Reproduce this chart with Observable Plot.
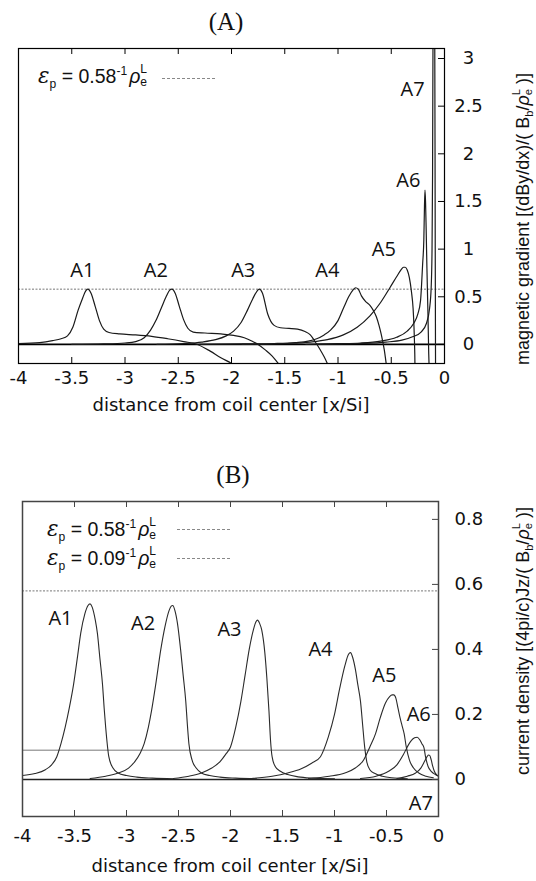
<!DOCTYPE html>
<html><head><meta charset="utf-8">
<script src="https://cdn.jsdelivr.net/npm/d3@7"></script>
<script src="https://cdn.jsdelivr.net/npm/@observablehq/plot@0.6"></script>
<style>
html,body{margin:0;padding:0;background:#fff;}
#wrap{position:relative;width:536px;height:881px;overflow:hidden;font-family:"Liberation Sans",Arial,sans-serif;color:#111;}
#wrap svg{position:absolute;left:0;}
.t{position:absolute;white-space:nowrap;line-height:1;}
.ttl{font-family:"Liberation Serif","DejaVu Serif",serif;font-size:25px;transform:translate(-50%,-50%);}
.xl{font-family:"DejaVu Sans",sans-serif;font-size:18px;transform:translate(-50%,-50%);}
.yl{font-size:18px;transform:translate(-50%,-50%) rotate(-90deg);}
.lg{font-size:19.5px;}
.eps{font-style:italic;font-family:"DejaVu Serif",serif;font-size:1.1em;}
.rho{font-style:italic;}
sub,sup{font-size:0.62em;line-height:0;}
.lg sup{margin-right:2px;}
.ss{display:inline-block;vertical-align:-0.3em;font-size:0.62em;line-height:1.1;}
.ss span{display:block;}
.sample{position:absolute;height:0;border-top:1px dashed #888;width:53px;}
</style></head>
<body><div id="wrap"></div>
<script>
// ---------- data ----------
const xTicks = [-4, -3.5, -3, -2.5, -2, -1.5, -1, -0.5, 0];
const gradTicks = [0, 0.5, 1, 1.5, 2, 2.5, 3];
const curTicks = [0, 0.2, 0.4, 0.6, 0.8];
const curveNames = ["A1", "A2", "A3", "A4", "A5", "A6", "A7"];

// (A) magnetic gradient curves
const gA1x = [-4.0,-3.8,-3.68,-3.6,-3.54,-3.49,-3.44,-3.4,-3.37,-3.35,-3.32,-3.28,-3.24,-3.2,-3.15,-3.05,-2.9,-2.75,-2.6,-2.45,-2.32,-2.2,-2.1,-2.0,-1.95];
const gA1y = [0.01,0.02,0.04,0.06,0.09,0.18,0.36,0.48,0.56,0.58,0.54,0.4,0.25,0.16,0.125,0.11,0.1,0.085,0.06,0.03,0.0,-0.07,-0.14,-0.2,-0.24];
const gA2x = [-3.5,-3.2,-3.0,-2.9,-2.82,-2.76,-2.71,-2.66,-2.61,-2.58,-2.56,-2.53,-2.49,-2.45,-2.41,-2.36,-2.25,-2.1,-1.98,-1.88,-1.8,-1.75,-1.68,-1.62,-1.56,-1.53];
const gA2y = [0.0,0.005,0.015,0.03,0.07,0.15,0.25,0.38,0.51,0.57,0.58,0.54,0.4,0.26,0.17,0.13,0.12,0.11,0.095,0.07,0.03,0.0,-0.06,-0.12,-0.2,-0.24];
const gA3x = [-2.7,-2.45,-2.28,-2.15,-2.05,-1.98,-1.91,-1.85,-1.8,-1.76,-1.74,-1.71,-1.66,-1.6,-1.54,-1.46,-1.38,-1.31,-1.26,-1.21,-1.17,-1.13,-1.1,-1.08];
const gA3y = [0.0,0.01,0.025,0.05,0.09,0.14,0.23,0.36,0.48,0.56,0.58,0.54,0.32,0.2,0.175,0.168,0.16,0.135,0.1,0.02,-0.05,-0.13,-0.2,-0.25];
const gA4x = [-2.3,-1.9,-1.6,-1.4,-1.28,-1.2,-1.13,-1.07,-1.0,-0.945,-0.9,-0.86,-0.835,-0.81,-0.78,-0.74,-0.7,-0.67,-0.64,-0.615,-0.595,-0.58,-0.565,-0.55,-0.54];
const gA4y = [0.0,0.005,0.01,0.02,0.035,0.06,0.1,0.15,0.25,0.39,0.5,0.57,0.595,0.58,0.51,0.45,0.41,0.36,0.29,0.2,0.11,0.03,-0.06,-0.18,-0.26];
const gA5x = [-1.9,-1.5,-1.26,-1.1,-0.95,-0.82,-0.7,-0.6,-0.51,-0.45,-0.41,-0.385,-0.37,-0.35,-0.33,-0.31,-0.295,-0.287,-0.282,-0.279,-0.277];
const gA5y = [0.0,0.01,0.025,0.05,0.1,0.18,0.3,0.44,0.6,0.71,0.78,0.81,0.81,0.78,0.7,0.55,0.38,0.2,0.03,-0.1,-0.25];
const gA6x = [-1.3,-1.0,-0.79,-0.6,-0.45,-0.35,-0.29,-0.25,-0.225,-0.205,-0.194,-0.188,-0.183,-0.178,-0.172,-0.165,-0.155,-0.148,-0.144];
const gA6y = [0.0,0.008,0.015,0.035,0.075,0.14,0.22,0.32,0.46,0.85,1.1,1.45,1.62,1.5,1.2,0.8,0.3,-0.1,-0.25];
const gA7x = [-1.2,-0.8,-0.55,-0.4,-0.3,-0.22,-0.17,-0.14,-0.125,-0.117,-0.112,-0.108,-0.1,-0.092,-0.087,-0.084];
const gA7y = [0.0,0.01,0.025,0.045,0.08,0.13,0.22,0.38,0.6,1.0,1.8,3.2,3.6,3.4,1.0,-0.25];
const gradRef = [0.58];
const gradLabelX = [-3.40, -2.71, -1.89, -1.10, -0.57, -0.34, -0.30];
const gradLabelY = [0.78, 0.78, 0.78, 0.78, 1.0, 1.72, 2.67];

// (B) current density curves
const cA1x = [-4.0,-3.88,-3.78,-3.72,-3.67,-3.63,-3.59,-3.55,-3.51,-3.47,-3.44,-3.4,-3.37,-3.35,-3.33,-3.3,-3.28,-3.255,-3.23,-3.215,-3.2,-3.17,-3.13,-3.08,-3.0,-2.9,-2.75,-2.55];
const cA1y = [0.012,0.018,0.03,0.045,0.07,0.11,0.16,0.22,0.29,0.38,0.45,0.51,0.535,0.54,0.53,0.49,0.45,0.37,0.29,0.22,0.16,0.07,0.035,0.02,0.012,0.007,0.004,0.002];
const cA2x = [-3.35,-3.2,-3.08,-2.98,-2.92,-2.87,-2.83,-2.79,-2.76,-2.72,-2.67,-2.63,-2.59,-2.57,-2.555,-2.535,-2.51,-2.48,-2.455,-2.43,-2.415,-2.4,-2.37,-2.33,-2.28,-2.2,-2.1,-1.95,-1.75];
const cA2y = [0.003,0.01,0.02,0.035,0.055,0.08,0.11,0.16,0.21,0.29,0.4,0.47,0.52,0.533,0.535,0.52,0.48,0.4,0.32,0.24,0.17,0.11,0.06,0.035,0.02,0.012,0.007,0.004,0.002];
const cA3x = [-2.55,-2.4,-2.28,-2.18,-2.1,-2.04,-2.0,-1.95,-1.9,-1.86,-1.82,-1.78,-1.755,-1.74,-1.72,-1.7,-1.67,-1.65,-1.63,-1.615,-1.6,-1.57,-1.52,-1.45,-1.35,-1.2,-1.0];
const cA3y = [0.003,0.01,0.02,0.035,0.055,0.08,0.1,0.16,0.24,0.32,0.4,0.46,0.485,0.49,0.48,0.46,0.39,0.31,0.21,0.12,0.07,0.04,0.025,0.015,0.008,0.004,0.002];
const cA4x = [-1.8,-1.6,-1.45,-1.32,-1.22,-1.135,-1.06,-1.0,-0.95,-0.9,-0.865,-0.846,-0.825,-0.8,-0.775,-0.75,-0.73,-0.71,-0.69,-0.66,-0.61,-0.54,-0.45,-0.3];
const cA4y = [0.003,0.01,0.02,0.033,0.05,0.07,0.13,0.2,0.28,0.35,0.385,0.39,0.375,0.34,0.29,0.24,0.17,0.1,0.055,0.03,0.018,0.01,0.005,0.002];
const cA5x = [-1.25,-1.05,-0.9,-0.8,-0.72,-0.66,-0.606,-0.56,-0.51,-0.47,-0.445,-0.43,-0.41,-0.39,-0.37,-0.35,-0.33,-0.31,-0.28,-0.24,-0.19,-0.12,-0.05];
const cA5y = [0.003,0.01,0.02,0.035,0.06,0.1,0.14,0.19,0.235,0.255,0.26,0.26,0.25,0.22,0.19,0.165,0.14,0.1,0.06,0.035,0.02,0.01,0.005];
const cA6x = [-0.75,-0.6,-0.48,-0.4,-0.34,-0.3,-0.26,-0.23,-0.205,-0.18,-0.16,-0.14,-0.125,-0.1,-0.07,-0.03,0];
const cA6y = [0.003,0.01,0.025,0.045,0.075,0.1,0.12,0.128,0.13,0.122,0.11,0.098,0.07,0.04,0.025,0.015,0.01];
const cA7x = [-0.4,-0.3,-0.22,-0.17,-0.135,-0.11,-0.095,-0.085,-0.07,-0.055,-0.04,-0.02,0];
const cA7y = [0.003,0.01,0.02,0.035,0.055,0.07,0.075,0.074,0.06,0.04,0.025,0.015,0.01];
const curDotted = [0.58];
const curSolid = [0.09];
const curLabelX = [-3.635, -2.84, -2.01, -1.135, -0.52, -0.19, -0.17];
const curLabelY = [0.495, 0.48, 0.46, 0.40, 0.32, 0.20, -0.073];

// ---------- build tables ----------
function series(name, xs, ys) { return xs.map((x, i) => ({name, x, y: ys[i]})); }
const gradData = [].concat(
  series("A1", gA1x, gA1y), series("A2", gA2x, gA2y), series("A3", gA3x, gA3y),
  series("A4", gA4x, gA4y), series("A5", gA5x, gA5y), series("A6", gA6x, gA6y),
  series("A7", gA7x, gA7y));
const curData = [].concat(
  series("A1", cA1x, cA1y), series("A2", cA2x, cA2y), series("A3", cA3x, cA3y),
  series("A4", cA4x, cA4y), series("A5", cA5x, cA5y), series("A6", cA6x, cA6y),
  series("A7", cA7x, cA7y));
const gradLabels = curveNames.map((n, i) => ({n, x: gradLabelX[i], y: gradLabelY[i]}));
const curLabels = curveNames.map((n, i) => ({n, x: curLabelX[i], y: curLabelY[i]}));
const fmt = d => String(d);

const wrap = document.getElementById("wrap");
const baseStyle = {fontFamily: "DejaVu Sans, sans-serif", fontSize: "18px", color: "#111", background: "transparent", overflow: "visible"};

// ---------- panel A ----------
const HA = 430, mtA = 48, mbA = 67, mlA = 18, mrA = 92;
const fhA = HA - mtA - mbA, fwA = 536 - mlA - mrA;
const plotA = Plot.plot({
  width: 536, height: HA, marginTop: mtA, marginBottom: mbA, marginLeft: mlA, marginRight: mrA,
  x: {domain: [-4, 0], label: null}, y: {domain: [-0.2, 3.105], label: null},
  style: baseStyle,
  marks: [
    Plot.ruleY(gradRef, {stroke: "#777", strokeWidth: 1, strokeDasharray: "2,1.5"}),
    Plot.ruleY([0], {stroke: "#000", strokeWidth: 1.8}),
    Plot.line(gradData, {x: "x", y: "y", z: "name", curve: "monotone-x", stroke: "#1a1a1a", strokeWidth: 1.2, clip: true}),
    Plot.ruleX(xTicks.slice(1, -1), {insetBottom: fhA - 6, stroke: "#000"}),
    Plot.ruleX(xTicks.slice(1, -1), {insetTop: fhA - 6, stroke: "#000"}),
    Plot.ruleY(gradTicks, {insetLeft: fwA - 6, stroke: "#000"}),
    Plot.axisX(xTicks, {anchor: "bottom", tickSize: 0, tickPadding: 8, tickFormat: fmt, fontSize: 18, label: null}),
    Plot.axisY(gradTicks, {anchor: "right", tickSize: 0, tickPadding: 24, textAnchor: "middle", tickFormat: fmt, fontSize: 18, label: null}),
    Plot.text(gradLabels, {x: "x", y: "y", text: "n", fontFamily: "Open Sans, Lato, sans-serif", fontSize: 20, fill: "#111"}),
    Plot.frame({stroke: "#000", strokeWidth: 1.2})
  ]
});
plotA.style.top = "0px";
wrap.appendChild(plotA);

// ---------- panel B ----------
const HB = 441, mtB = 61, mbB = 65, mlB = 22, mrB = 98;
const fhB = HB - mtB - mbB, fwB = 536 - mlB - mrB;
const plotB = Plot.plot({
  width: 536, height: HB, marginTop: mtB, marginBottom: mbB, marginLeft: mlB, marginRight: mrB,
  x: {domain: [-4, 0], label: null}, y: {domain: [-0.114, 0.855], label: null},
  style: baseStyle,
  marks: [
    Plot.ruleY(curDotted, {stroke: "#777", strokeWidth: 1, strokeDasharray: "2,1.5"}),
    Plot.ruleY(curSolid, {stroke: "#777", strokeWidth: 1}),
    Plot.ruleY([0], {stroke: "#222", strokeWidth: 1.6}),
    Plot.line(curData, {x: "x", y: "y", z: "name", curve: "monotone-x", stroke: "#2a2a2a", strokeWidth: 1.1, clip: true}),
    Plot.ruleX(xTicks.slice(1, -1), {insetBottom: fhB - 6, stroke: "#444"}),
    Plot.ruleX(xTicks.slice(1, -1), {insetTop: fhB - 6, stroke: "#444"}),
    Plot.ruleY(curTicks, {insetLeft: fwB - 6, stroke: "#444"}),
    Plot.axisX(xTicks, {anchor: "bottom", tickSize: 0, tickPadding: 13, tickFormat: fmt, fontSize: 18, label: null}),
    Plot.axisY(curTicks, {anchor: "right", tickSize: 0, tickPadding: 16, tickFormat: fmt, fontSize: 18, label: null}),
    Plot.text(curLabels, {x: "x", y: "y", text: "n", fontFamily: "Open Sans, Lato, sans-serif", fontSize: 20, fill: "#111"}),
    Plot.frame({stroke: "#444", strokeWidth: 1.5})
  ]
});
plotB.style.top = "440px";
wrap.appendChild(plotB);

// ---------- text overlays ----------
const rhoEL = '<span class="rho">ρ</span><span class="ss"><span>L</span><span>e</span></span>';
function addText(cls, html, left, top) {
  const d = document.createElement("div");
  d.className = "t " + cls;
  d.innerHTML = html;
  d.style.left = left + "px";
  d.style.top = top + "px";
  wrap.appendChild(d);
}
function addSample(left, top) {
  const d = document.createElement("div");
  d.className = "sample";
  d.style.left = left + "px";
  d.style.top = top + "px";
  wrap.appendChild(d);
}
addText("ttl", "(A)", 226, 21);
addText("ttl", "(B)", 233, 474);
addText("xl", "distance from coil center [x/Si]", 231, 405);
addText("xl", "distance from coil center [x/Si]", 230, 866);
addText("yl", 'magnetic gradient [(dBy/dx)/( B<sub>b</sub>/' + rhoEL + ' )]', 522, 219);
addText("yl", 'current density [(4pi/c)Jz/( B<sub>b</sub>/' + rhoEL + ' )]', 522, 641);
addText("lg", '<span class="eps">ε</span><sub>p</sub> = 0.58<sup>-1</sup>' + rhoEL, 38, 63);
addSample(162, 78);
addText("lg", '<span class="eps">ε</span><sub>p</sub> = 0.58<sup>-1</sup>' + rhoEL, 47, 516);
addSample(177, 529);
addText("lg", '<span class="eps">ε</span><sub>p</sub> = 0.09<sup>-1</sup>' + rhoEL, 47, 545);
addSample(177, 558);
</script>
</body></html>
